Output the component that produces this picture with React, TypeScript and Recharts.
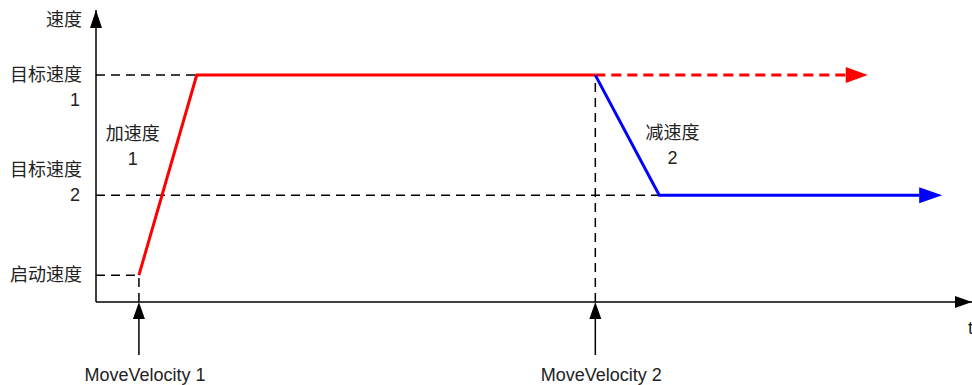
import React from 'react';
import { LineChart, Line, XAxis, YAxis, ReferenceLine, ReferenceDot } from 'recharts';

// Time positions (arbitrary units 0..100)
const eventTimes = [4.9, 57.0]; // MoveVelocity 1, MoveVelocity 2
const eventLabels = ['MoveVelocity 1', 'MoveVelocity 2'];

// Velocity levels (arbitrary units 0..100)
const velocityLevels = [9.2, 36.6, 77.7]; // start, target 2, target 1
const velocityLabels = [['启动速度'], ['目标速度', '2'], ['目标速度', '1']];

// Series 1: acceleration to target velocity 1 (solid red)
const accelTimes = [4.9, 11.5, 57.0];
const accelValues = [9.2, 77.7, 77.7];

// Series 1 continuation (dashed red)
const contTimes = [57.0, 85.6];
const contValues = [77.7, 77.7];
const contArrowTip = { t: 88.1, v: 77.7 };

// Series 2: deceleration to target velocity 2 (solid blue)
const decelTimes = [57.0, 64.3, 94.0];
const decelValues = [77.7, 36.6, 36.6];
const decelArrowTip = { t: 96.6, v: 36.6 };

const accelData = accelTimes.map((t, i) => ({ t, v: accelValues[i] }));
const contData = contTimes.map((t, i) => ({ t, v: contValues[i] }));
const decelData = decelTimes.map((t, i) => ({ t, v: decelValues[i] }));

const FONT = '"Liberation Sans", Arial, "Noto Sans CJK SC", sans-serif';
const FS = 18;
const TXT = '#222';
// which label line sits on the tick level (per velocity level)
const labelAnchorLine = [0, 1, 0];

const YTick = (props: any) => {
  const { x, y, payload } = props;
  const idx = velocityLevels.indexOf(payload.value);
  const lines = velocityLabels[idx] || [];
  const anchor = labelAnchorLine[idx] || 0;
  return (
    <g>
      {lines.map((s, i) => (
        <text
          key={i}
          x={i === 0 ? x : x - 2}
          y={y + (i - anchor) * 25}
          textAnchor="end"
          dominantBaseline="central"
          fontFamily={FONT}
          fontSize={FS}
          fill={TXT}
        >
          {s}
        </text>
      ))}
    </g>
  );
};

const XTick = (props: any) => {
  const { x, y, payload } = props;
  const idx = eventTimes.indexOf(payload.value);
  return (
    <g>
      <polygon points={`${x},${y} ${x - 6},${y + 17} ${x + 6},${y + 17}`} fill="#000" />
      <line x1={x} y1={y + 15} x2={x} y2={y + 53} stroke="#000" strokeWidth={1.5} />
      <text
        x={x + 6}
        y={y + 73}
        textAnchor="middle"
        dominantBaseline="central"
        fontFamily={FONT}
        fontSize={FS}
        fill={TXT}
      >
        {eventLabels[idx]}
      </text>
    </g>
  );
};

const arrowRight = (color: string, len: number, half: number) => (p: any) => {
  const { cx, cy } = p;
  return (
    <polygon
      points={`${cx},${cy} ${cx - len},${cy - half} ${cx - len},${cy + half}`}
      fill={color}
    />
  );
};

const yAxisArrow = (p: any) => {
  const { cx, cy } = p;
  return (
    <g>
      <polygon points={`${cx},${cy} ${cx - 6},${cy + 18} ${cx + 6},${cy + 18}`} fill="#000" />
      <text
        x={cx - 14}
        y={cy + 10}
        textAnchor="end"
        dominantBaseline="central"
        fontFamily={FONT}
        fontSize={FS}
        fill={TXT}
      >
        速度
      </text>
    </g>
  );
};

const xAxisArrow = (p: any) => {
  const { cx, cy } = p;
  return (
    <g>
      <polygon points={`${cx},${cy} ${cx - 17},${cy - 6} ${cx - 17},${cy + 6}`} fill="#000" />
      <text
        x={cx - 4}
        y={cy + 26}
        textAnchor="start"
        dominantBaseline="central"
        fontFamily={FONT}
        fontSize={FS}
        fill={TXT}
      >
        t
      </text>
    </g>
  );
};

const annotation = (lines: string[]) => (p: any) => {
  const { cx, cy } = p;
  return (
    <g>
      {lines.map((s, i) => (
        <text
          key={i}
          x={cx}
          y={cy + i * 25}
          textAnchor="middle"
          dominantBaseline="central"
          fontFamily={FONT}
          fontSize={FS}
          fill={TXT}
        >
          {s}
        </text>
      ))}
    </g>
  );
};

const dash = { stroke: '#000', strokeWidth: 1.5, strokeDasharray: '9 6' };

export default function App() {
  const [startV, target2V, target1V] = velocityLevels;
  const [mv1, mv2] = eventTimes;
  return (
    <div style={{ position: 'absolute', left: 0, top: 0, background: '#fff' }}>
      <LineChart
        width={972}
        height={385}
        margin={{ top: 10, right: 0, bottom: 0, left: 0 }}
      >
        <XAxis
          type="number"
          dataKey="t"
          domain={[0, 100]}
          ticks={eventTimes}
          tick={<XTick />}
          tickLine={false}
          tickSize={0}
          tickMargin={0}
          height={83}
          axisLine={{ stroke: '#000', strokeWidth: 1.5 }}
          allowDataOverflow
        />
        <YAxis
          type="number"
          dataKey="v"
          domain={[0, 100]}
          ticks={velocityLevels}
          tick={<YTick />}
          tickLine={false}
          tickSize={0}
          tickMargin={14}
          width={96}
          axisLine={{ stroke: '#000', strokeWidth: 1.5 }}
          allowDataOverflow
        />
        <ReferenceLine segment={[{ x: 0, y: target1V }, { x: accelTimes[1], y: target1V }]} {...dash} ifOverflow="visible" />
        <ReferenceLine segment={[{ x: 0, y: target2V }, { x: decelTimes[1], y: target2V }]} {...dash} ifOverflow="visible" />
        <ReferenceLine segment={[{ x: 0, y: startV }, { x: mv1, y: startV }]} {...dash} ifOverflow="visible" />
        <ReferenceLine segment={[{ x: mv1, y: 0 }, { x: mv1, y: startV }]} {...dash} ifOverflow="visible" />
        <ReferenceLine segment={[{ x: mv2, y: 0 }, { x: mv2, y: target1V }]} {...dash} ifOverflow="visible" />

        <Line
          data={contData}
          dataKey="v"
          stroke="#ff0000"
          strokeWidth={3}
          strokeDasharray="10 6"
          dot={false}
          activeDot={false}
          isAnimationActive={false}
        />
        <Line
          data={accelData}
          dataKey="v"
          stroke="#ff0000"
          strokeWidth={3}
          dot={false}
          activeDot={false}
          isAnimationActive={false}
        />
        <Line
          data={decelData}
          dataKey="v"
          stroke="#0000ff"
          strokeWidth={3}
          dot={false}
          activeDot={false}
          isAnimationActive={false}
        />

        <ReferenceDot x={contArrowTip.t} y={contArrowTip.v} ifOverflow="visible" shape={arrowRight('#ff0000', 22, 8)} />
        <ReferenceDot x={decelArrowTip.t} y={decelArrowTip.v} ifOverflow="visible" shape={arrowRight('#0000ff', 23, 8)} />
        <ReferenceDot x={100} y={0} ifOverflow="visible" shape={xAxisArrow} />
        <ReferenceDot x={0} y={100} ifOverflow="visible" shape={yAxisArrow} />
        <ReferenceDot x={4.2} y={57.5} ifOverflow="visible" shape={annotation(['加速度', '1'])} />
        <ReferenceDot x={65.8} y={58.0} ifOverflow="visible" shape={annotation(['减速度', '2'])} />
      </LineChart>
    </div>
  );
}
